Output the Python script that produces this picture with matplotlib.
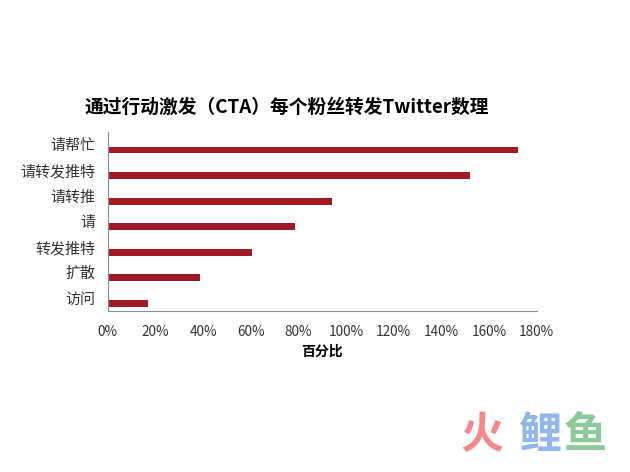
import matplotlib.pyplot as plt
import matplotlib.ticker as mticker

plt.rcParams['font.family'] = ['Noto Sans CJK SC', 'DejaVu Sans']

# data (top to bottom as shown)
labels = ['请帮忙', '请转发推特', '请转推', '请', '转发推特', '扩散', '访问']
values = [172, 152, 94, 78.5, 60.5, 38.6, 16.8]
xticks = [0, 20, 40, 60, 80, 100, 120, 140, 160, 180]


def draw():
    fig = plt.figure(figsize=(6.3, 4.72), dpi=100)
    ax = fig.add_axes([0.171, 0.341, 0.681, 0.379])

    pos = list(range(len(labels)))
    # bars sit a bit below the centre of each band
    ax.barh([p + 0.2 for p in pos], values, height=0.27, color='#a01b26')
    ax.set_yticks(pos)
    ax.set_yticklabels(labels, fontsize=10.8, color='#333333')
    ax.set_ylim(len(labels) - 0.5, -0.5)

    ax.set_xlim(0, 180)
    ax.set_xticks(xticks)
    ax.xaxis.set_major_formatter(mticker.FuncFormatter(lambda v, p: '%d%%' % v))
    ax.tick_params(axis='x', length=0, labelsize=9.8, pad=10, colors='#333333')
    ax.tick_params(axis='y', length=0, pad=9)

    for s in ['top', 'right']:
        ax.spines[s].set_visible(False)
    ax.spines['left'].set_color('#8c8c8c')
    ax.spines['bottom'].set_color('#8c8c8c')

    ax.set_xlabel('百分比', fontsize=10, fontweight='bold', labelpad=4)
    fig.text(0.456, 0.773, '通过行动激发（CTA）每个粉丝转发Twitter数理',
             ha='center', va='center', fontsize=13.5, fontweight='bold')

    # watermark
    fig.text(0.731, 0.05, '火', color='#f47c7c', fontsize=31, fontweight='bold', alpha=0.9)
    fig.text(0.823, 0.05, '鲤', color='#86b0ee', fontsize=31, fontweight='bold', alpha=0.9)
    fig.text(0.895, 0.05, '鱼', color='#7fc58e', fontsize=31, fontweight='bold', alpha=0.9)

    fig.savefig('out.png', dpi=100)


if __name__ == '__main__':
    draw()
